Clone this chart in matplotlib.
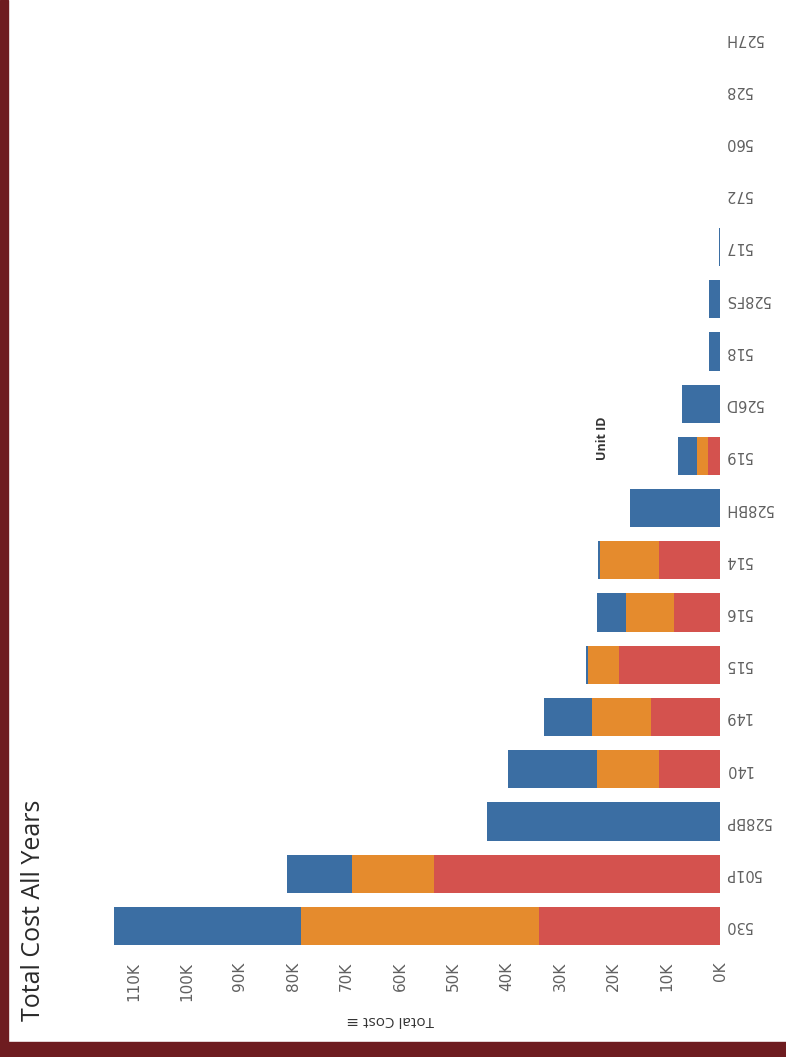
import numpy as np
import matplotlib
matplotlib.use("Agg")
import matplotlib.pyplot as plt
from matplotlib.patches import Rectangle
from matplotlib.ticker import FuncFormatter

# values in thousands of dollars
units = ['527H', '528', '560', '572', '517', '528FS', '518', '526D', '519',
         '528BH', '514', '516', '515', '149', '140', '528BP', '501P', '530']
red = [0, 0, 0, 0, 0, 0, 0, 0, 2.3, 0, 11.4, 8.6, 18.9, 12.9, 11.4, 0, 53.6, 34.0]
orange = [0, 0, 0, 0, 0, 0, 0, 0, 2.0, 0, 11.1, 9.0, 5.9, 11.1, 11.7, 0, 15.4, 44.6]
blue = [0, 0, 0, 0, 0.2, 2.1, 2.1, 7.2, 3.5, 16.8, 0.3, 5.4, 0.3, 9.0, 16.6, 43.7, 12.1, 35.0]
xticks = list(range(0, 120, 10))

c_red = '#d4524e'
c_orange = '#e58b2d'
c_blue = '#3b6ea3'

W, H = 786, 1057
fig = plt.figure(figsize=(W / 100, H / 100), dpi=100)
fig.patch.set_facecolor('white')

ax = fig.add_axes([96 / W, 1 - 952 / H, (720 - 96) / W, (952 - 12) / H])

y = np.arange(len(units))
red = np.array(red)
orange = np.array(orange)
blue = np.array(blue)
ax.barh(y, red, height=0.73, color=c_red)
ax.barh(y, orange, left=red, height=0.73, color=c_orange)
ax.barh(y, blue, left=red + orange, height=0.73, color=c_blue)

ax.set_xlim(117, 0)
ax.set_ylim(len(units) - 0.5, -0.5)

for s in ax.spines.values():
    s.set_visible(False)

ax.set_xticks(xticks)
ax.xaxis.set_major_formatter(FuncFormatter(lambda v, p: f"{int(v)}K"))
ax.tick_params(axis='x', length=0, pad=7, labelsize=11, labelcolor='#606060',
               labelrotation=90)

ax.yaxis.tick_right()
ax.set_yticks(y)
ax.set_yticklabels(units, rotation=180, fontsize=10.5, color='#606060')
ax.tick_params(axis='y', length=0, pad=3)
for lab in ax.get_yticklabels():
    lab.set_rotation_mode('anchor')
    lab.set_va('center')
    lab.set_ha('right')

# axis title, upside down like the photo
fig.text(390 / W, 1 - 1020 / H, "Total Cost \u2261", rotation=180, ha='center',
         va='center', fontsize=11, color='#333333', family=['Open Sans', 'DejaVu Sans'])

fig.text(602 / W, 1 - 438 / H, "Unit ID", rotation=90, ha='center', va='center',
         fontsize=9, fontweight='bold', color='#333333', family='Open Sans')

fig.text(34 / W, 1 - 910 / H, "Total Cost All Years", rotation=90, ha='center',
         va='center', fontsize=18, color='#2a2a2a', family='Open Sans')

# dark frame of the photographed page
fig.patches.append(Rectangle((0, 0), 8 / W, 1, transform=fig.transFigure,
                             color='#6e1c20', zorder=5))
fig.patches.append(Rectangle((0, 0), 1, 15 / H, transform=fig.transFigure,
                             color='#6e1c20', zorder=5))

fig.savefig("out.png", dpi=100)
